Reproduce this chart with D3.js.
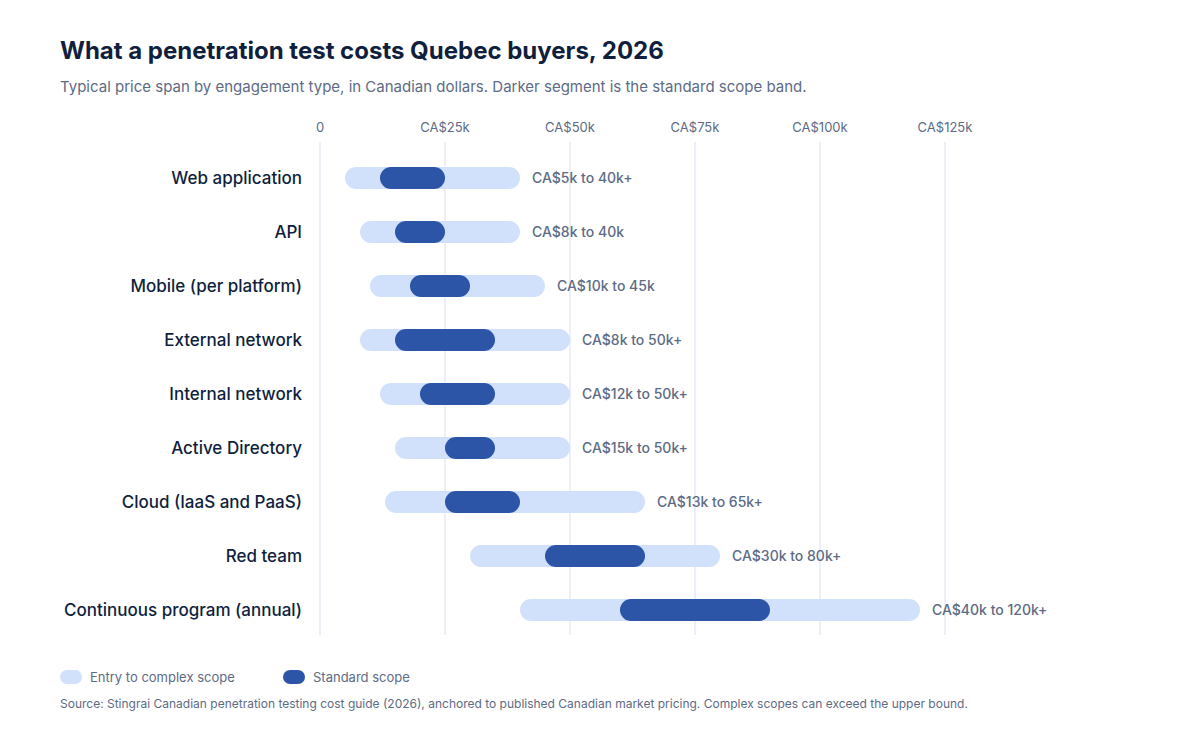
<!DOCTYPE html>
<html>
<head>
<meta charset="utf-8">
<script src="https://cdn.jsdelivr.net/npm/d3@7"></script>
<style>
  body { margin: 0; background: #fff; font-family: "Inter", "Liberation Sans", sans-serif; }
</style>
</head>
<body>
<svg id="chart" width="1200" height="740"></svg>
<script>
// Engagement types and price spans (thousands of CAD)
var categories = ["Web application", "API", "Mobile (per platform)", "External network",
  "Internal network", "Active Directory", "Cloud (IaaS and PaaS)", "Red team",
  "Continuous program (annual)"];
var lowValues = [5, 8, 10, 8, 12, 15, 13, 30, 40];
var highValues = [40, 40, 45, 50, 50, 50, 65, 80, 120];
var stdLow = [12, 15, 18, 15, 20, 25, 25, 45, 60];
var stdHigh = [25, 25, 30, 35, 35, 35, 40, 65, 90];
var rangeLabels = ["CA$5k to 40k+", "CA$8k to 40k", "CA$10k to 45k", "CA$8k to 50k+",
  "CA$12k to 50k+", "CA$15k to 50k+", "CA$13k to 65k+", "CA$30k to 80k+", "CA$40k to 120k+"];
var tickValues = [0, 25, 50, 75, 100, 125];
var tickLabels = ["0", "CA$25k", "CA$50k", "CA$75k", "CA$100k", "CA$125k"];

var svg = d3.select("#chart");
var x = d3.scaleLinear().domain([0, 125]).range([320, 945]);
var y = d3.scaleBand().domain(categories).range([151, 637]).padding(0);
var barH = 22;

// Title and subtitle
svg.append("text").attr("x", 60).attr("y", 59).text("What a penetration test costs Quebec buyers, 2026")
  .attr("font-size", 24).attr("font-weight", 700).attr("fill", "#0f1f3d");
svg.append("text").attr("x", 60).attr("y", 92)
  .text("Typical price span by engagement type, in Canadian dollars. Darker segment is the standard scope band.")
  .attr("font-size", 15).attr("fill", "#5d6b85");

// Gridlines and tick labels
svg.selectAll(".grid").data(tickValues).enter().append("line")
  .attr("x1", d => x(d)).attr("x2", d => x(d)).attr("y1", 142).attr("y2", 635)
  .attr("stroke", "#e6eaf4").attr("stroke-width", 1.5);
svg.selectAll(".tick").data(tickValues).enter().append("text")
  .attr("x", d => x(d)).attr("y", 132).attr("text-anchor", "middle")
  .text((d, i) => tickLabels[i]).attr("font-size", 13).attr("fill", "#5d6b85");

// Rows
var rows = svg.selectAll(".row").data(categories).enter().append("g")
  .attr("transform", d => "translate(0," + (y(d) + y.bandwidth() / 2) + ")");
rows.append("text").attr("x", 302).attr("y", 6).attr("text-anchor", "end")
  .text(d => d).attr("font-size", 17).attr("font-weight", 500).attr("fill", "#0f1f3d");
rows.append("rect")
  .attr("x", (d, i) => x(lowValues[i])).attr("y", -barH / 2)
  .attr("width", (d, i) => x(highValues[i]) - x(lowValues[i])).attr("height", barH)
  .attr("rx", barH / 2).attr("fill", "#d2e1fb");
rows.append("rect")
  .attr("x", (d, i) => x(stdLow[i])).attr("y", -barH / 2)
  .attr("width", (d, i) => x(stdHigh[i]) - x(stdLow[i])).attr("height", barH)
  .attr("rx", barH / 2).attr("fill", "#2c55a8");
rows.append("text").attr("x", (d, i) => x(highValues[i]) + 12).attr("y", 5)
  .text((d, i) => rangeLabels[i]).attr("font-size", 14).attr("font-weight", 500).attr("fill", "#5d6b85");

// Legend
var legend = [["Entry to complex scope", "#d2e1fb", 60], ["Standard scope", "#2c55a8", 283]];
legend.forEach(function (l) {
  svg.append("rect").attr("x", l[2]).attr("y", 670).attr("width", 22).attr("height", 14)
    .attr("rx", 7).attr("fill", l[1]);
  svg.append("text").attr("x", l[2] + 30).attr("y", 682).text(l[0])
    .attr("font-size", 13).attr("fill", "#5d6b85");
});

svg.append("text").attr("x", 60).attr("y", 708)
  .text("Source: Stingrai Canadian penetration testing cost guide (2026), anchored to published Canadian market pricing. Complex scopes can exceed the upper bound.")
  .attr("font-size", 12).attr("fill", "#5d6b85");
</script>
</body>
</html>
